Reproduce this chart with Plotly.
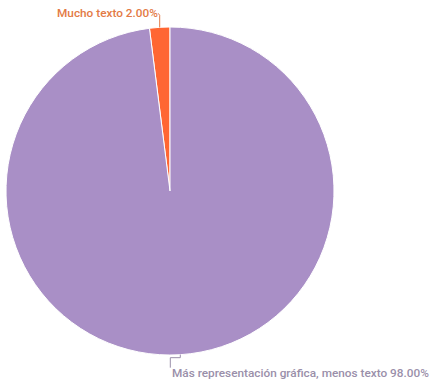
import math
import plotly.graph_objects as go

labels = ["Mucho texto", "Más representación gráfica, menos texto"]
values = [2.0, 98.0]
colors = ["#FF6633", "#A98FC6"]
label_colors = ["#E37A45", "#9A8FAA"]

W, H = 432, 383
cx, cy, r = 170, 191, 164

total = sum(values)
# slices run counterclockwise from 12 o'clock; expressed as a clockwise
# layout that starts where the first slice ends
start_deg = -360 * values[0] / total

fig = go.Figure()
fig.add_trace(go.Pie(
    labels=labels, values=values, sort=False, direction="clockwise",
    rotation=start_deg, textinfo="none", hoverinfo="label+percent",
    marker=dict(colors=colors, line=dict(color="white", width=1)),
    domain=dict(x=[(cx - r) / W, (cx + r) / W], y=[(H - cy - r) / H, (H - cy + r) / H]),
    showlegend=False,
))

cum = 0.0
shapes, annotations = [], []
for i, (lab, v) in enumerate(zip(labels, values)):
    # angle measured counterclockwise from the top
    mid = (cum + v / 2) / total * 2 * math.pi
    cum += v
    ax = cx - r * math.sin(mid)
    ay = cy - r * math.cos(mid)
    pct = f"{v / total * 100:.2f}%"
    if math.cos(mid) > 0:
        # label above the pie, leader rises from the arc
        path = f"M{ax},{ay} L{ax},{ay - 12} L{ax - 1.5},{ay - 14}"
        tx, ty, anchor = ax, ay - 14, "right"
    else:
        # label below the pie, leader steps left then drops
        path = f"M{ax},{ay} L{ax},{ay + 3} L{ax - 10},{ay + 3} L{ax - 10},{ay + 13}"
        tx, ty, anchor = ax - 10, ay + 18, "left"
    shapes.append(dict(type="path", path=path, xref="x", yref="y",
                       line=dict(color=label_colors[i], width=1)))
    annotations.append(dict(x=tx, y=ty, xref="x", yref="y", text=f"{lab} {pct}",
                            showarrow=False, xanchor=anchor, yanchor="middle",
                            font=dict(family="Roboto", size=11.8, color=label_colors[i],
                                      weight=500)))

fig.update_layout(
    width=W, height=H, margin=dict(l=0, r=0, t=0, b=0),
    paper_bgcolor="white", plot_bgcolor="rgba(0,0,0,0)",
    xaxis=dict(range=[0, W], visible=False, fixedrange=True),
    yaxis=dict(range=[H, 0], visible=False, fixedrange=True),
    shapes=shapes, annotations=annotations,
)
fig.write_html("out.html")
